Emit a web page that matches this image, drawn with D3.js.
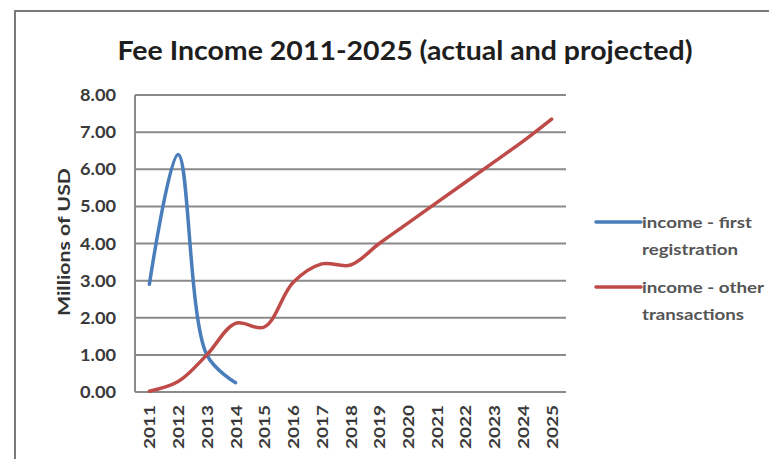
<!DOCTYPE html>
<html>
<head>
<meta charset="utf-8">
<title>Fee Income 2011-2025</title>
<style>
  body { margin: 0; background: #fff; }
  svg { display: block; }
  .grid line { stroke: #8a8a8a; stroke-width: 2; }
  .tick-label { font-family: Lato, sans-serif; font-weight: bold; fill: #3a3a3a; }
</style>
<script src="https://cdn.jsdelivr.net/npm/d3@7/dist/d3.min.js"></script>
</head>
<body>
<script>
    var w = 769, h = 459;

    // categories and series (millions of USD)
    var years = ['2011', '2012', '2013', '2014', '2015', '2016', '2017', '2018',
                 '2019', '2020', '2021', '2022', '2023', '2024', '2025'];
    var firstRegistration = [2.9, 6.4, 1.0, 0.25];
    var otherTransactions = [0.02, 0.28, 1.0, 1.85, 1.75, 2.95, 3.45, 3.42,
                             4.0, 4.55, 5.1, 5.65, 6.2, 6.75, 7.35];
    var yTicks = [0, 1, 2, 3, 4, 5, 6, 7, 8];
    var legendLines = [['income - first', 'registration'], ['income - other', 'transactions']];
    var seriesColors = ['#4a7ebb', '#be4b48'];

    var plot = {left: 135, right: 566, top: 95, bottom: 392};

    var svg = d3.select('body').append('svg')
        .attr('width', w)
        .attr('height', h);

    // outer chart frame
    svg.append('rect')
        .attr('x', 15).attr('y', 11)
        .attr('width', w).attr('height', h)
        .attr('fill', 'none')
        .attr('stroke', '#7a7a7a')
        .attr('stroke-width', 2);

    svg.append('text')
        .attr('x', 405).attr('y', 60)
        .attr('text-anchor', 'middle')
        .attr('font-family', 'Lato, sans-serif')
        .attr('font-weight', 'bold')
        .attr('font-size', 26)
        .attr('fill', '#1e1e1e')
        .attr('textLength', 575)
        .attr('lengthAdjust', 'spacingAndGlyphs')
        .text('Fee Income 2011-2025 (actual and projected)');

    var x = d3.scaleBand().domain(years).range([plot.left, plot.right]);
    var y = d3.scaleLinear().domain([0, 8]).range([plot.bottom, plot.top]);

    function cx(i) { return x(years[i]) + x.bandwidth() / 2; }

    // horizontal gridlines
    svg.append('g').attr('class', 'grid')
        .selectAll('line').data(yTicks).enter().append('line')
        .attr('x1', plot.left).attr('x2', plot.right)
        .attr('y1', function (d) { return y(d); })
        .attr('y2', function (d) { return y(d); });

    // vertical axis line
    svg.append('line')
        .attr('x1', plot.left).attr('x2', plot.left)
        .attr('y1', plot.top).attr('y2', plot.bottom)
        .attr('stroke', '#8a8a8a').attr('stroke-width', 2);

    // y tick labels
    svg.selectAll('.ylab').data(yTicks).enter().append('text')
        .attr('class', 'tick-label')
        .attr('x', 98)
        .attr('y', function (d) { return y(d) + 6; })
        .attr('text-anchor', 'middle')
        .attr('font-size', 17)
        .attr('textLength', 36)
        .attr('lengthAdjust', 'spacingAndGlyphs')
        .text(function (d) { return d.toFixed(2); });

    // x tick labels, rotated
    svg.selectAll('.xlab').data(years).enter().append('text')
        .attr('class', 'tick-label')
        .attr('font-size', 16)
        .attr('text-anchor', 'middle')
        .attr('textLength', 44)
        .attr('lengthAdjust', 'spacingAndGlyphs')
        .attr('transform', function (d) {
            return 'translate(' + (x(d) + x.bandwidth() / 2 + 6) + ',427) rotate(-90)';
        })
        .text(function (d) { return d; });

    // y axis title
    svg.append('text')
        .attr('transform', 'translate(70,242) rotate(-90)')
        .attr('text-anchor', 'middle')
        .attr('font-family', 'Lato, sans-serif')
        .attr('font-weight', 'bold')
        .attr('font-size', 17)
        .attr('fill', '#333')
        .attr('textLength', 148)
        .attr('lengthAdjust', 'spacingAndGlyphs')
        .text('Millions of USD');

    var line = d3.line()
        .x(function (d, i) { return cx(i); })
        .y(function (d) { return y(d); })
        .curve(d3.curveCatmullRom.alpha(0.5));

    [firstRegistration, otherTransactions].forEach(function (s, k) {
        svg.append('path')
            .datum(s)
            .attr('d', line)
            .attr('fill', 'none')
            .attr('stroke', seriesColors[k])
            .attr('stroke-width', 3.5)
            .attr('stroke-linecap', 'round');
    });

    // legend
    var legendY = [222, 287];
    var legendWidths = [[110, 96], [122, 102]];
    legendLines.forEach(function (parts, k) {
        var g = svg.append('g');
        g.append('line')
            .attr('x1', 596).attr('x2', 641)
            .attr('y1', legendY[k]).attr('y2', legendY[k])
            .attr('stroke', seriesColors[k])
            .attr('stroke-width', 3.5)
            .attr('stroke-linecap', 'round');
        g.selectAll('text').data(parts).enter().append('text')
            .attr('x', 642)
            .attr('y', function (d, j) { return legendY[k] + 6 + j * 27; })
            .attr('font-family', 'Lato, sans-serif')
            .attr('font-weight', 'bold')
            .attr('font-size', 16)
            .attr('fill', '#555')
            .attr('textLength', function (d, j) { return legendWidths[k][j]; })
            .attr('lengthAdjust', 'spacingAndGlyphs')
            .text(function (d) { return d; });
    });
</script>
</body>
</html>
